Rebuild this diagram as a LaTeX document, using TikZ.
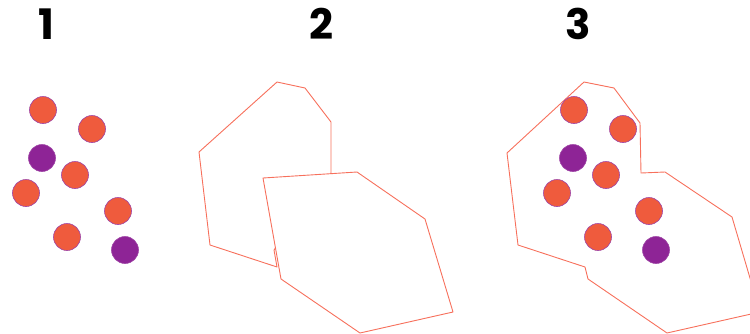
\documentclass[tikz,border=0pt]{standalone}
\usepackage{fontspec}
\newfontfamily\digitfont{Poppins}

\definecolor{dotorange}{RGB}{239,91,61}
\definecolor{dotpurple}{RGB}{142,36,150}
\definecolor{hullline}{RGB}{247,112,92}

\tikzset{
  ball/.style={circle, minimum size=27pt, inner sep=0pt, draw=dotpurple!85, line width=0.6pt, fill=#1},
  hull/.style={draw=hullline, line width=0.9pt, line join=round},
  panelnum/.style={font=\digitfont\bfseries\fontsize{42}{42}\selectfont, inner sep=0pt}
}

\begin{document}
\begin{tikzpicture}[x=1pt, y=-1pt]
  \useasboundingbox (0,0) rectangle (750,333);

  % panel numbers
  \node[panelnum] (num1) at (46,24) {1};
  \node[panelnum] (num2) at (321,24) {2};
  \node[panelnum] (num3) at (578,24) {3};

  % panel 2: the two hulls
  \draw[hull] (277,82) -- (305,88) -- (331,122) -- (331,173) -- (274,250)
    -- (277,267) -- (210,245) -- (199,152) -- cycle;
  \draw[hull, fill=white] (263,178) -- (357,172) -- (425,219) -- (453,312)
    -- (360,333) -- (281,279) -- cycle;

  % panel 3: merged hull
  \begin{scope}
    \clip (0,0) rectangle (750,333);
    \draw[hull] (584,82) -- (614,88) -- (640,123) -- (641,173) -- (665,172)
      -- (732,217) -- (760,312) -- (667,333) -- (588,279) -- (585,267)
      -- (518,245) -- (507,153) -- cycle;
  \end{scope}

  % points, panel 1 and panel 3
  \foreach \nm/\px/\py/\col in {a/43/110/dotorange, b/92/129/dotorange,
      c/42/158/dotpurple, d/75/175/dotorange, e/26/193/dotorange,
      f/118/211/dotorange, g/67/237/dotorange, h/125/250/dotpurple} {
    \node[ball=\col] (l\nm) at (\px,\py) {};
    \node[ball=\col] (r\nm) at (\px+531,\py) {};
  }
\end{tikzpicture}
\end{document}
